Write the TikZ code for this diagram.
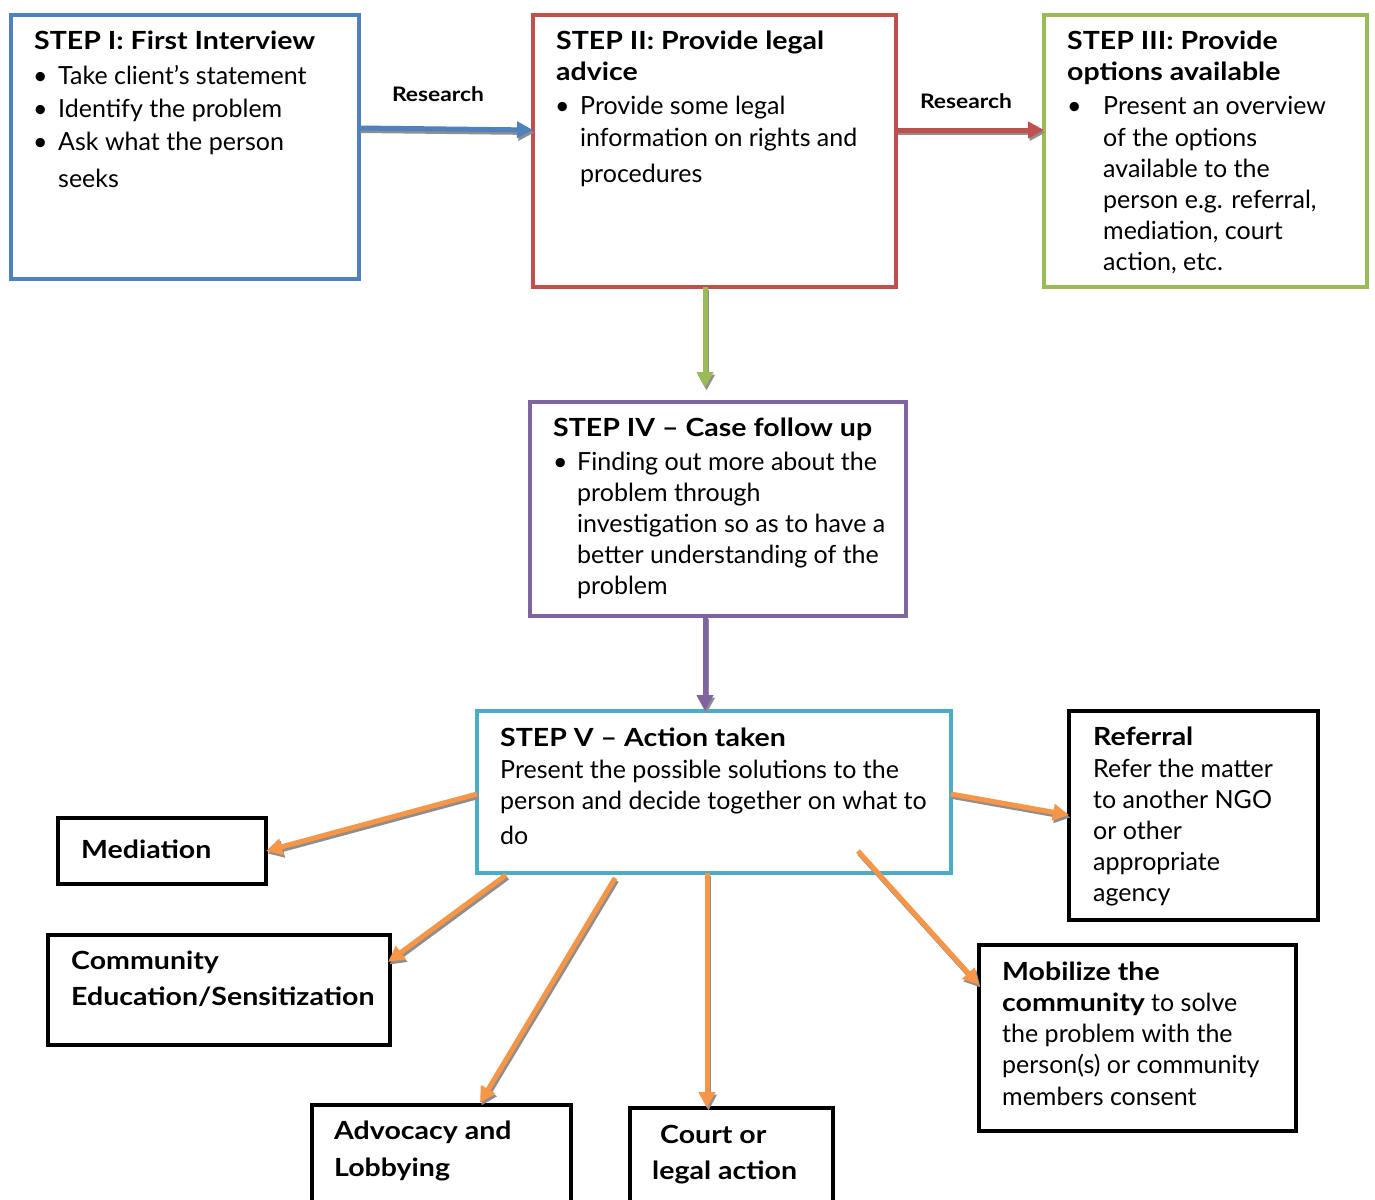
\documentclass[tikz,border=0pt]{standalone}
\usepackage{fontspec}
\setmainfont{Lato}[BoldFeatures={FakeStretch=1.14}]
\usetikzlibrary{arrows.meta,calc}
\definecolor{cblue}{HTML}{4F81BD}
\definecolor{cred}{HTML}{C0504D}
\definecolor{cgreen}{HTML}{9BBB59}
\definecolor{cpurple}{HTML}{8064A2}
\definecolor{ccyan}{HTML}{4BACC6}
\definecolor{corange}{HTML}{F79646}
\definecolor{cshadow}{HTML}{8E8E8E}
\begin{document}
\begin{tikzpicture}[x=1pt,y=-1pt,
  box/.style={draw=#1, line width=4pt, rectangle, inner sep=0pt, outer sep=0pt, anchor=north west},
  txt/.style={anchor=base west, inner sep=0pt, font=\fontsize{25}{30}\selectfont},
  hd/.style={txt, font=\fontsize{25}{30}\selectfont\bfseries},
  bul/.style={anchor=base west, inner sep=0pt, font=\fontsize{25}{30}\selectfont},
  link/.style={line width=5pt, draw=#1, -{Triangle[length=16pt,width=16pt]},
    preaction={draw=cshadow, line width=5pt, -{Triangle[length=16pt,width=16pt]},
      transform canvas={shift={(1.5pt,-2.5pt)}}}},
  lbl/.style={anchor=base, inner sep=0pt, font=\fontsize{20}{24}\selectfont\bfseries}
]
\useasboundingbox (0,0) rectangle (1375,1199);
\fill[white] (0,0) rectangle (1375,1199);

% step boxes
\node[box=cblue, minimum width=348pt, minimum height=264pt] (s1) at (11,15) {};
\node[box=cred, minimum width=363pt, minimum height=272pt] (s2) at (533,15) {};
\node[box=cgreen, minimum width=323pt, minimum height=272pt] (s3) at (1044,15) {};
\node[box=cpurple, minimum width=376pt, minimum height=214pt] (s4) at (530,402) {};
\node[box=ccyan, minimum width=474pt, minimum height=162pt] (s5) at (477,711) {};

% outcome boxes
\node[box=black, line width=3.5pt, minimum width=208pt, minimum height=66pt] (med) at (58,818) {};
\node[box=black, line width=3.5pt, minimum width=342pt, minimum height=110pt] (com) at (48,935) {};
\node[box=black, line width=3.5pt, minimum width=259pt, minimum height=120pt] (adv) at (312,1105) {};
\node[box=black, line width=3.5pt, minimum width=203pt, minimum height=120pt] (crt) at (630,1108) {};
\node[box=black, line width=3.5pt, minimum width=317pt, minimum height=186pt] (mob) at (979,945) {};
\node[box=black, line width=3.5pt, minimum width=249pt, minimum height=209pt] (ref) at (1069,711) {};

% step I
\node[hd] (t1) at (34,50) {STEP I: First Interview};
\node[bul] (b1a) at (33,84) {\textbullet};
\node[txt] (t1a) at (58,84) {Take client’s statement};
\node[bul] (b1b) at (33,117) {\textbullet};
\node[txt] (t1b) at (58,117) {Identify the problem};
\node[bul] (b1c) at (33,150) {\textbullet};
\node[txt] (t1c) at (58,150) {Ask what the person};
\node[txt] (t1d) at (58,187) {seeks};

% step II
\node[hd] (t2) at (556,50) {STEP II: Provide legal};
\node[hd] (t2x) at (556,81) {advice};
\node[bul] (b2a) at (555,114) {\textbullet};
\node[txt] (t2a) at (580,114) {Provide some legal};
\node[txt] (t2b) at (580,146) {information on rights and};
\node[txt] (t2c) at (580,182) {procedures};

% step III
\node[hd] (t3) at (1067,50) {STEP III: Provide};
\node[hd] (t3x) at (1067,81) {options available};
\node[bul] (b3a) at (1067,114) {\textbullet};
\node[txt] (t3a) at (1103,114) {Present an overview};
\node[txt] (t3b) at (1103,146) {of the options};
\node[txt] (t3c) at (1103,177) {available to the};
\node[txt] (t3d) at (1103,208) {person e.g. referral,};
\node[txt] (t3e) at (1103,239) {mediation, court};
\node[txt] (t3f) at (1103,270) {action, etc.};

% step IV
\node[hd] (t4) at (553,436) {STEP IV – Case follow up};
\node[bul] (b4a) at (553,470) {\textbullet};
\node[txt] (t4a) at (577,470) {Finding out more about the};
\node[txt] (t4b) at (577,501) {problem through};
\node[txt] (t4c) at (577,532) {investigation so as to have a};
\node[txt] (t4d) at (577,563) {better understanding of the};
\node[txt] (t4e) at (577,594) {problem};

% step V
\node[hd] (t5) at (500,746) {STEP V – Action taken};
\node[txt] (t5a) at (500,778) {Present the possible solutions to the};
\node[txt] (t5b) at (500,809) {person and decide together on what to};
\node[txt] (t5c) at (500,844) {do};

% outcomes
\node[hd] (tm) at (81,858) {Mediation};
\node[hd] (tc1) at (71,969) {Community};
\node[hd] (tc2) at (71,1005) {Education/Sensitization};
\node[hd] (ta1) at (334,1139) {Advocacy and};
\node[hd] (ta2) at (334,1176) {Lobbying};
\node[hd] (tk1) at (660,1143) {Court or};
\node[hd] (tk2) at (652,1179) {legal action};
\node[hd] (tb1) at (1002,980) {Mobilize the};
\node[txt] (tb2) at (1002,1011) {\textbf{community} to solve};
\node[txt] (tb3) at (1002,1042) {the problem with the};
\node[txt] (tb4) at (1002,1073) {person(s) or community};
\node[txt] (tb5) at (1002,1105) {members consent};
\node[hd] (tr1) at (1093,745) {Referral};
\node[txt] (tr2) at (1093,777) {Refer the matter};
\node[txt] (tr3) at (1093,808) {to another NGO};
\node[txt] (tr4) at (1093,839) {or other};
\node[txt] (tr5) at (1093,870) {appropriate};
\node[txt] (tr6) at (1093,901) {agency};

% connectors between steps
\node[lbl] (r1) at (438,101) {Research};
\node[lbl] (r2) at (966,108) {Research};
\draw[link=cblue] ($(s1.north east)+(0,113)$) -- ($(s2.north west)+(0,115)$);
\draw[link=cred] ($(s2.north east)+(0,115)$) -- ($(s3.north west)+(0,115)$);
\draw[link=cgreen] ($(s2.south)+(-9.5,0)$) -- ($(s4.north)+(-13,-14)$);
\draw[link=cpurple] ($(s4.south)+(-13,0)$) -- ($(s5.north)+(-9,0)$);

% connectors to the outcomes
\draw[link=corange] ($(s5.north west)+(0,83)$) -- (med.east);
\draw[link=corange] ($(s5.north east)+(0,83)$) -- ($(ref.north west)+(0,104)$);
\draw[link=corange] ($(s5.south west)+(29,2)$) -- ($(com.north east)+(-2,27)$);
\draw[link=corange] ($(s5.south west)+(138,5)$) -- ($(adv.north west)+(168,-2)$);
\draw[link=corange] ($(s5.south west)+(230,0)$) -- ($(crt.north west)+(77,0)$);
\draw[link=corange] ($(s5.south west)+(381,-22)$) -- ($(mob.north west)+(0,40)$);
\end{tikzpicture}
\end{document}
